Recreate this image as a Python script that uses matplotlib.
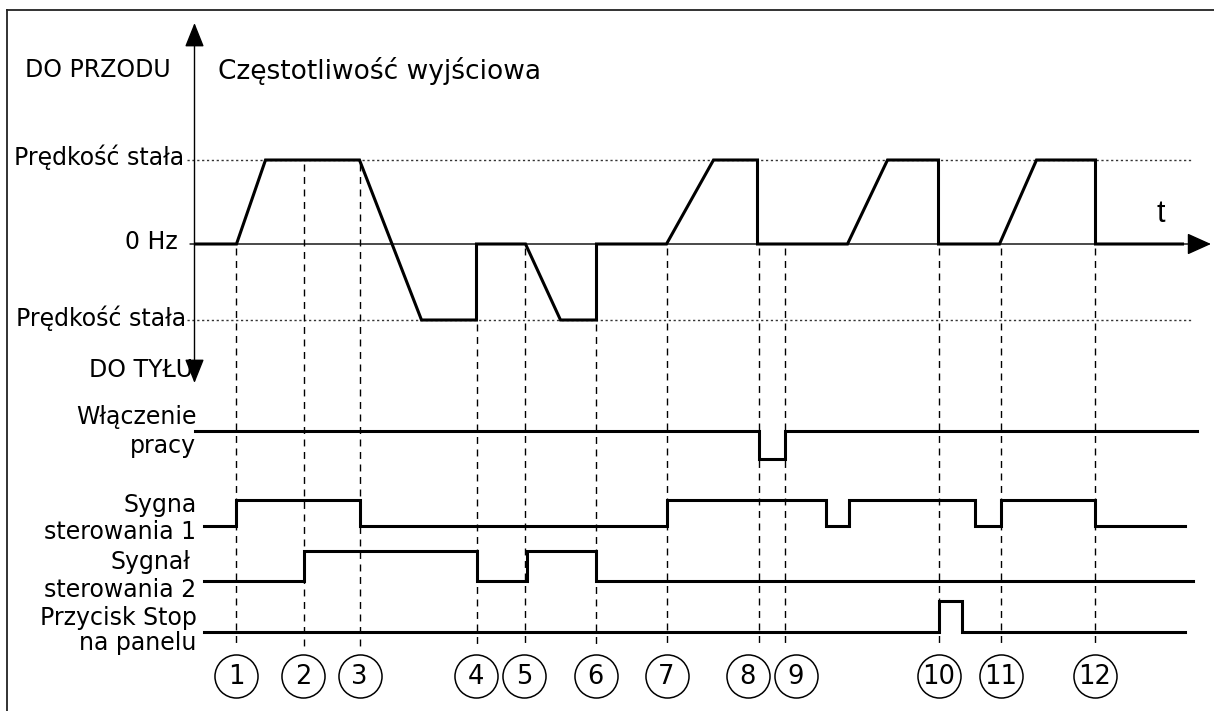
import numpy as np
import matplotlib.pyplot as plt
from matplotlib.lines import Line2D

# Output frequency: time points and level (+1 forward constant speed, 0 = 0 Hz, -1 reverse)
freq_t = [0.1, 4.2, 7.1, 16.5, 22.7, 28.2, 28.2, 33.1, 36.6, 40.2, 40.2, 47.2,
          51.9, 56.3, 56.3, 65.3, 69.3, 74.4, 74.4, 80.5, 84.2, 90.1, 90.1, 98.8]
freq_lvl = [0, 0, 1, 1, -1, -1, 0, 0, -1, -1, 0, 0,
            1, 1, 0, 0, 1, 1, 0, 0, 1, 1, 0, 0]

# Digital signals: switching times, initial state, start and end of the trace
run_edges = [56.4, 59.0]
run_init, run_span = 1, (0.1, 100.2)
sig1_edges = [4.2, 16.5, 47.2, 63.1, 65.4, 78.0, 80.6, 90.0]
sig1_init, sig1_span = 0, (1.0, 99.0)
sig2_edges = [10.9, 28.2, 33.2, 40.1]
sig2_init, sig2_span = 0, (1.0, 99.8)
stop_edges = [74.4, 76.7]
stop_init, stop_span = 0, (1.0, 99.0)

# Numbered events
event_t = [4.2, 10.9, 16.5, 28.2, 33.0, 40.1, 47.2, 56.4, 59.0, 74.4, 80.6, 90.0]
event_label_t = [4.2, 10.85, 16.5, 28.15, 32.95, 40.1, 47.2, 55.3, 60.1, 74.4, 80.6, 90.0]
event_names = [str(i) for i in range(1, 13)]

# layout (vertical positions in pixels from the top)
level_px = {1: 160, 0: 244, -1: 320}
rows = {'run': (459, 431), 'sig1': (526, 500), 'sig2': (581, 551), 'stop': (632, 601)}
circle_y = 676
guide_bottom = 647
FS = 17
LW = 2.2

W, H = 1214, 711
fig = plt.figure(figsize=(W / 100, H / 100), dpi=100)
ax = fig.add_axes([0, 0, 1, 1])
ax.set_xlim(-19.45, 101.95)
ax.set_ylim(H, 0)
ax.axis('off')

# frame
fig.add_artist(Line2D([7 / W, 7 / W], [1 - 10 / H, 0], transform=fig.transFigure,
                      color='#222222', lw=1.3))
fig.add_artist(Line2D([7 / W, 1], [1 - 10 / H, 1 - 10 / H], transform=fig.transFigure,
                      color='#222222', lw=1.3))

# reference lines for constant speed
for lv in (1, -1):
    ax.plot([-0.75, 99.75], [level_px[lv]] * 2, color='#333333', lw=1.0,
            ls=(0, (1.6, 1.9)))

# axes with arrows
ax.annotate('', xy=(101.65, 244), xytext=(-0.45, 244),
            arrowprops=dict(arrowstyle='-|>,head_length=1.0,head_width=0.45',
                            mutation_scale=15, lw=1.0, color='black',
                            shrinkA=0, shrinkB=0))
ax.annotate('', xy=(0, 23), xytext=(0, 383),
            arrowprops=dict(arrowstyle='<|-|>,head_length=1.0,head_width=0.4',
                            mutation_scale=15, lw=1.0, color='black',
                            shrinkA=0, shrinkB=0))

# output frequency curve
freq_px = [level_px[l] for l in freq_lvl]
ax.plot(freq_t, freq_px, color='black', lw=LW, solid_joinstyle='miter')


def steps(span, edges, init):
    xs, ss = [span[0]], [init]
    state = init
    for e in edges:
        xs += [e, e]
        ss += [state, 1 - state]
        state = 1 - state
    xs.append(span[1])
    ss.append(state)
    return np.array(xs), np.array(ss)


for key, span, edges, init in [('run', run_span, run_edges, run_init),
                               ('sig1', sig1_span, sig1_edges, sig1_init),
                               ('sig2', sig2_span, sig2_edges, sig2_init),
                               ('stop', stop_span, stop_edges, stop_init)]:
    xs, ss = steps(span, edges, init)
    low, high = rows[key]
    ax.plot(xs, np.where(ss == 1, high, low), color='black', lw=LW,
            solid_joinstyle='miter')

# dashed guides from the curve down to the event circles
for tm in event_t:
    near = [freq_lvl[i] for i, t in enumerate(freq_t) if abs(t - tm) < 0.35]
    top = level_px[min(near)] if near else np.interp(tm, freq_t, freq_px)
    ax.plot([tm, tm], [top + 4, guide_bottom], color='black', lw=1.0,
            ls=(0, (5, 4)))

# numbered circles
ax.plot(event_label_t, [circle_y] * len(event_label_t), 'o', ms=31,
        mfc='white', mec='black', mew=1.1, ls='none')
for tx, name in zip(event_label_t, event_names):
    ax.text(tx, circle_y + 1, name, fontsize=FS + 1.5, ha='center', va='center')

# labels
ax.text(-9.7, 70, 'DO PRZODU', fontsize=FS, ha='center', va='center')
ax.text(2.35, 71, 'Częstotliwość wyjściowa', fontsize=FS + 2, ha='left', va='center')
ax.text(-1.05, 157, 'Prędkość stała', fontsize=FS, ha='right', va='center')
ax.text(-1.65, 242, '0 Hz', fontsize=FS, ha='right', va='center')
ax.text(-0.85, 318, 'Prędkość stała', fontsize=FS, ha='right', va='center')
ax.text(-0.15, 370, 'DO TYŁU', fontsize=FS, ha='right', va='center')
ax.text(96.65, 214, 't', fontsize=22, ha='center', va='center',
        family='Liberation Sans')

sig_labels = [('Włączenie', 417), ('pracy', 446),
              ('Sygna', 505), ('sterowania 1', 532),
              ('Sygnał', 562), ('sterowania 2', 590),
              ('Przycisk Stop', 618), ('na panelu', 643)]
for txt, y in sig_labels:
    xr = -0.4 if txt == 'Sygnał' else 0.2
    ax.text(xr, y, txt, fontsize=FS, ha='right', va='center')

fig.savefig('out.png', dpi=100)
